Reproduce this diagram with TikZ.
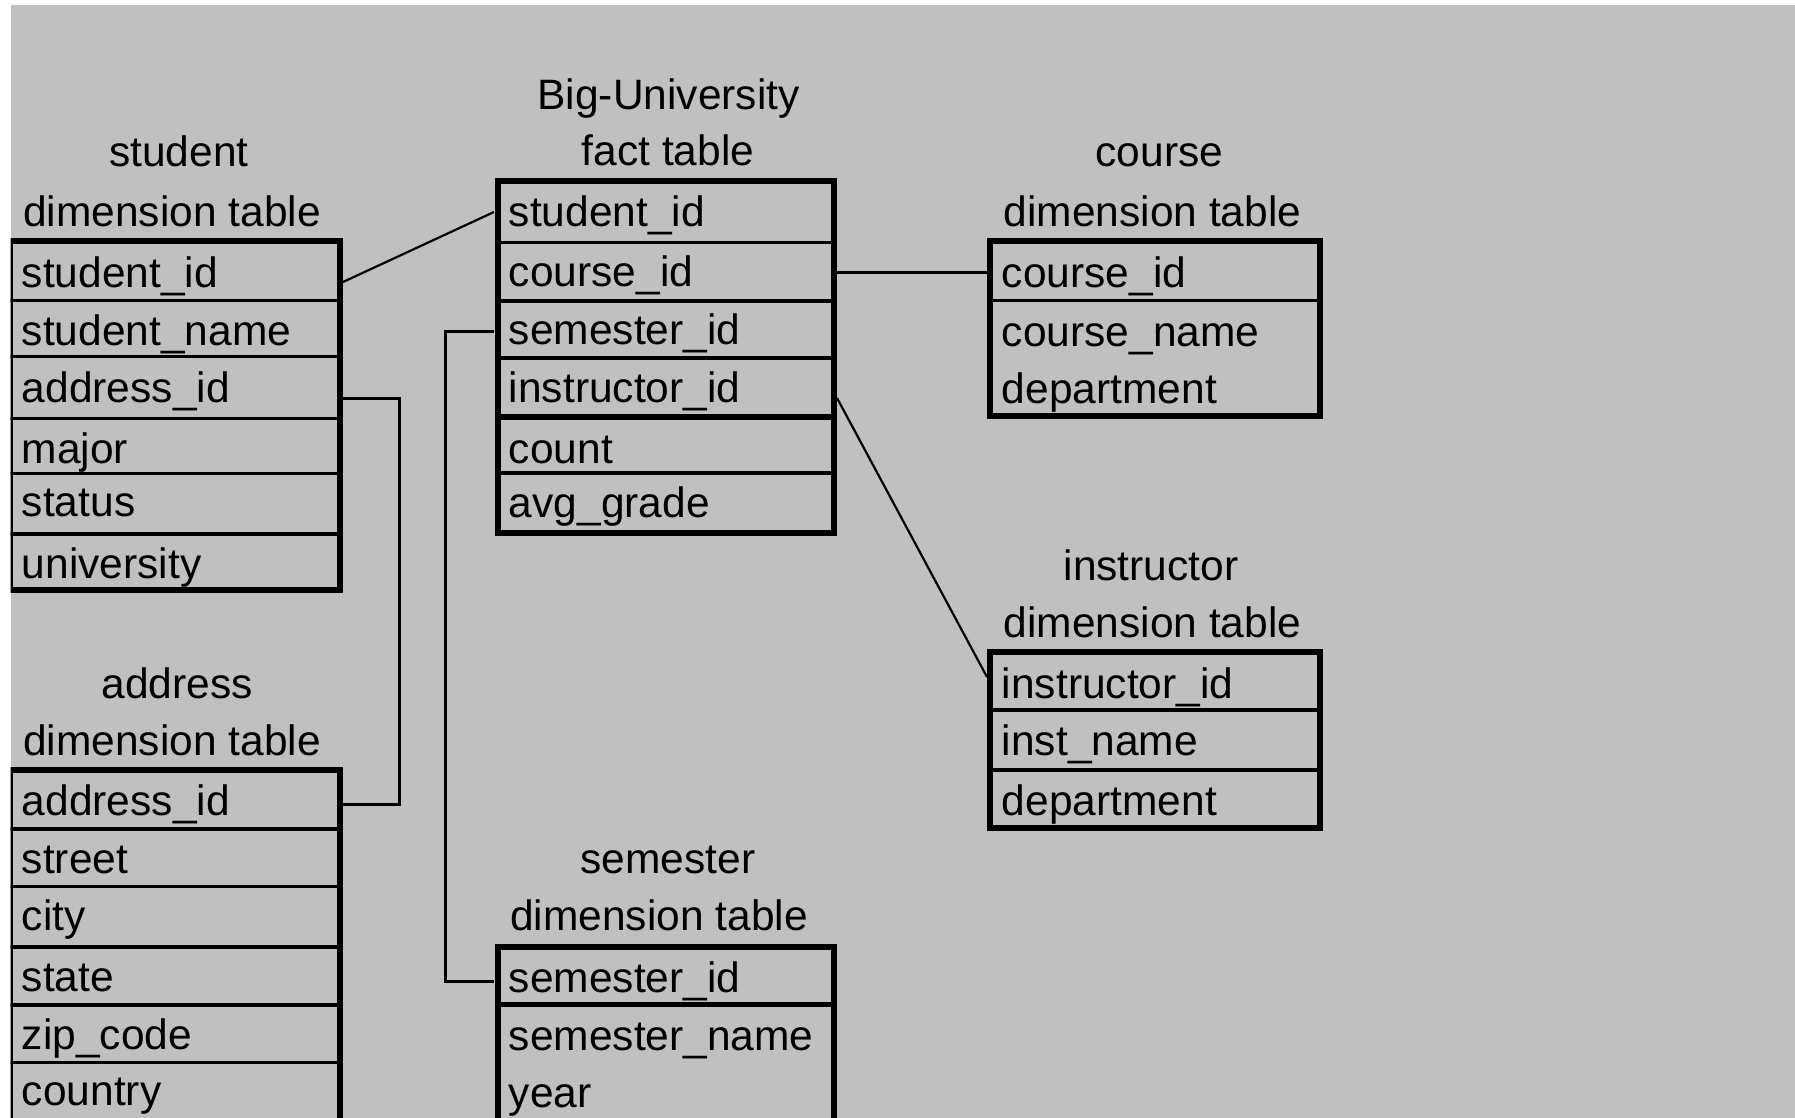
\documentclass[tikz,border=0pt]{standalone}
\usepackage{fontspec}
\setmainfont{Liberation Sans}
\newcommand\tabfont{\fontsize{21.25pt}{28pt}\selectfont}
\definecolor{canvas}{HTML}{C0C0C0}
\begin{document}
\begin{tikzpicture}[x=0.5pt,y=-0.5pt,
  frame/.style={line width=3pt, line join=miter},
  rowline/.style={line width=1.6pt, line cap=butt},
  keyline/.style={line width=3.4pt, line cap=butt},
  link/.style={line width=1.5pt, line join=miter},
  slant/.style={line width=1.1pt},
  field/.style={anchor=base west, inner sep=0pt, font=\tabfont},
  heading/.style={anchor=base, inner sep=0pt, font=\tabfont}]
\useasboundingbox (0,0) rectangle (1795,1118);
\fill[white] (0,0) rectangle (1795,1118);
\fill[canvas] (10.7,5) rectangle (1795,1118);
\begin{scope}
\clip (10.7,5) rectangle (1795,1118);

% ---- student dimension table ----
\node[heading] (stT1) at (179,167) {student};
\node[heading] (stT2) at (172,227) {dimension table};
\draw[frame] (10,241.5) rectangle (340,590);
\foreach \y in {300.5,356.5,418.5,473.5,534} \draw[rowline] (10,\y) -- (340,\y);
\node[field] (st1) at (21.5,288) {student\_id};
\node[field] (st2) at (21.5,346) {student\_name};
\node[field] (st3) at (21.5,402.7) {address\_id};
\node[field] (st4) at (21.5,464) {major};
\node[field] (st5) at (21.5,516.7) {status};
\node[field] (st6) at (21.5,578) {university};

% ---- address dimension table ----
\node[heading] (adT1) at (177,698) {address};
\node[heading] (adT2) at (172,755) {dimension table};
\draw[frame] (10,769.5) rectangle (340,1140);
\foreach \y in {829,886.5,947,1005,1062.5} \draw[rowline] (10,\y) -- (340,\y);
\node[field] (ad1) at (21.5,815) {address\_id};
\node[field] (ad2) at (21.5,873) {street};
\node[field] (ad3) at (21.5,930) {city};
\node[field] (ad4) at (21.5,991.7) {state};
\node[field] (ad5) at (21.5,1049) {zip\_code};
\node[field] (ad6) at (21.5,1105) {country};

% ---- fact table ----
\node[heading] (ftT1) at (668.5,110) {Big-University};
\node[heading] (ftT2) at (668,166) {fact table};
\draw[frame] (497.5,181.5) rectangle (833.5,532.5);
\foreach \y in {242.5,301,358,473} \draw[rowline] (497.5,\y) -- (833.5,\y);
\draw[keyline] (497.5,417) -- (833.5,417);
\node[field] (ft1) at (508.5,227) {student\_id};
\node[field] (ft2) at (508.5,287) {course\_id};
\node[field] (ft3) at (508.5,345) {semester\_id};
\node[field] (ft4) at (508.5,402) {instructor\_id};
\node[field] (ft5) at (508.5,463) {count};
\node[field] (ft6) at (508.5,517) {avg\_grade};

% ---- course dimension table ----
\node[heading] (coT1) at (1159.5,167) {course};
\node[heading] (coT2) at (1152.5,227) {dimension table};
\draw[frame] (990,241.5) rectangle (1320,416.5);
\draw[rowline] (990,300.5) -- (1320,300.5);
\node[field] (co1) at (1001.5,288) {course\_id};
\node[field] (co2) at (1001.5,347) {course\_name};
\node[field] (co3) at (1001.5,403) {department};

% ---- instructor dimension table ----
\node[heading] (inT1) at (1151,580) {instructor};
\node[heading] (inT2) at (1152.5,637) {dimension table};
\draw[frame] (990,651.5) rectangle (1320,827.5);
\foreach \y in {710,770} \draw[rowline] (990,\y) -- (1320,\y);
\node[field] (in1) at (1001.5,698) {instructor\_id};
\node[field] (in2) at (1001.5,755) {inst\_name};
\node[field] (in3) at (1001.5,815) {department};

% ---- semester dimension table ----
\node[heading] (seT1) at (668,873) {semester};
\node[heading] (seT2) at (659,930) {dimension table};
\draw[frame] (497.5,946.5) rectangle (833.5,1140);
\draw[rowline, line width=2.2pt] (497.5,1004.5) -- (833.5,1004.5);
\node[field] (se1) at (508.5,992) {semester\_id};
\node[field] (se2) at (508.5,1050) {semester\_name};
\node[field] (se3) at (508.5,1107) {year};

% ---- key links ----
\coordinate (stKey) at (343,282);
\coordinate (ftStu) at (494,212);
\coordinate (ftCou) at (837,273);
\coordinate (coKey) at (987,273);
\coordinate (ftIns) at (837,398);
\coordinate (inKey) at (987,677);
\coordinate (stAdr) at (343,399);
\coordinate (adKey) at (343,804);
\coordinate (ftSem) at (494,332);
\coordinate (seKey) at (494,981);

\draw[slant] (stKey) -- (ftStu);
\draw[link] (ftCou) -- (coKey);
\draw[slant] (ftIns) -- (inKey);
\draw[link] (stAdr) -- ++(56,0) |- (adKey);
\draw[link] (ftSem) -- ++(-48.5,0) |- (seKey);
\end{scope}
\end{tikzpicture}
\end{document}
